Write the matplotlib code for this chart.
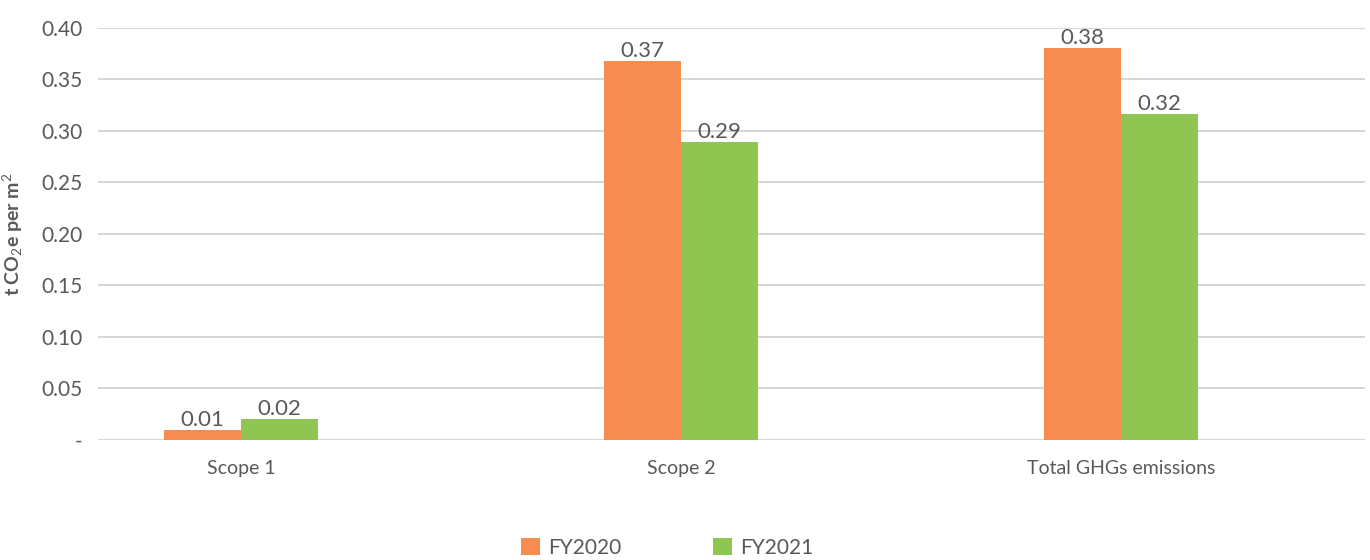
import numpy as np
import matplotlib
matplotlib.use("Agg")
import matplotlib.pyplot as plt
from matplotlib.ticker import FuncFormatter

plt.rcParams["font.family"] = ["Lato", "DejaVu Sans"]
plt.rcParams["mathtext.fontset"] = "custom"
plt.rcParams["mathtext.rm"] = "Lato"
plt.rcParams["mathtext.it"] = "Lato"
plt.rcParams["mathtext.bf"] = "Lato:bold"

# Data
categories = ["Scope 1", "Scope 2", "Total GHGs emissions"]
fy2020 = [0.0095, 0.368, 0.381]
fy2021 = [0.020, 0.289, 0.316]
series_names = ["FY2020", "FY2021"]

ORANGE = "#F78C50"
GREEN = "#8FC651"
TEXT = "#595959"
GRID = "#CFCFCF"

fig = plt.figure(figsize=(13.7, 5.6), dpi=100)
ax = fig.add_axes([0.0715, 0.215, 0.925, 0.735])

x = np.arange(len(categories))
w = 0.175
b1 = ax.bar(x - w / 2, fy2020, w, color=ORANGE, label=series_names[0], zorder=3)
b2 = ax.bar(x + w / 2, fy2021, w, color=GREEN, label=series_names[1], zorder=3)

for bars in (b1, b2):
    for rect in bars:
        h = rect.get_height()
        ax.annotate(f"{h:.2f}", (rect.get_x() + rect.get_width() / 2, h),
                    xytext=(0, 0), textcoords="offset points",
                    ha="center", va="bottom", fontsize=16, color=TEXT)

ax.set_ylim(0, 0.40)
ax.set_yticks(np.arange(0, 0.401, 0.05))
ax.yaxis.set_major_formatter(FuncFormatter(lambda v, p: "-" if abs(v) < 1e-9 else f"{v:.2f}"))
ax.set_xlim(-0.325, 2.555)
ax.set_xticks(x)
ax.set_xticklabels(categories)

ax.grid(axis="y", color=GRID, linewidth=1.2, zorder=0)
for s in ax.spines.values():
    s.set_visible(False)
ax.tick_params(axis="y", length=0, pad=11, labelsize=15, labelcolor=TEXT)
ax.tick_params(axis="x", length=0, pad=15, labelsize=14, labelcolor=TEXT)

ax.set_ylabel("t CO$_2$e per m$^2$", fontsize=14, color=TEXT, fontweight="bold", labelpad=12)

fig.legend(handles=[b1, b2], labels=series_names, loc="center",
           bbox_to_anchor=(0.487, 0.022), ncol=2, frameon=False,
           fontsize=15, handlelength=0.9, handleheight=0.9,
           handletextpad=0.4, columnspacing=4.4, labelcolor=TEXT)

fig.savefig("out.png", dpi=100)
